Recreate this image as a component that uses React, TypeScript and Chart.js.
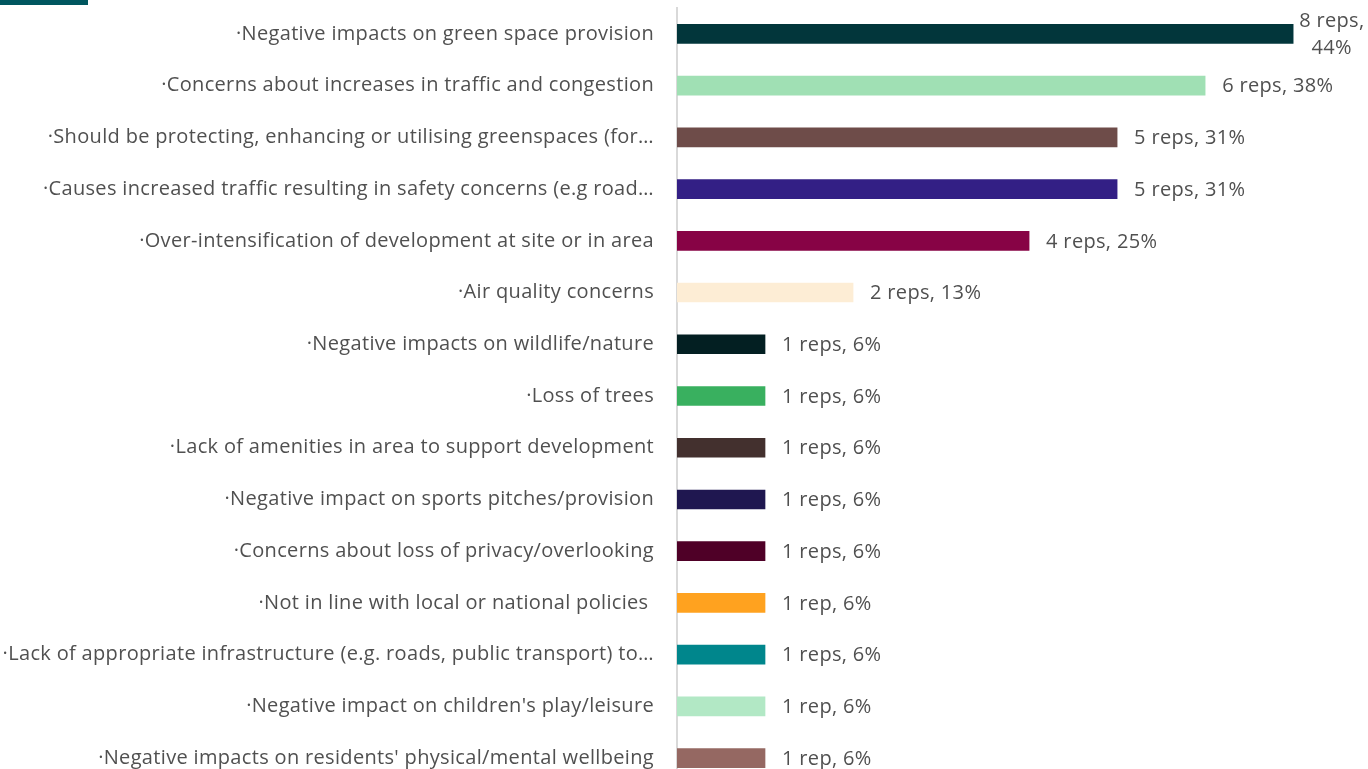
import React, { useEffect, useRef } from "react";
import { Chart, registerables } from "chart.js";

Chart.register(...registerables);

const categories = [
  "·Negative impacts on green space provision",
  "·Concerns about increases in traffic and congestion",
  "·Should be protecting, enhancing or utilising greenspaces (for…",
  "·Causes increased traffic resulting in safety concerns (e.g road…",
  "·Over-intensification of development at site or in area",
  "·Air quality concerns",
  "·Negative impacts on wildlife/nature",
  "·Loss of trees",
  "·Lack of amenities in area to support development",
  "·Negative impact on sports pitches/provision",
  "·Concerns about loss of privacy/overlooking",
  "·Not in line with local or national policies ",
  "·Lack of appropriate infrastructure (e.g. roads, public transport) to…",
  "·Negative impact on children's play/leisure",
  "·Negative impacts on residents' physical/mental wellbeing",
];

const percentValues = [43.75, 37.5, 31.25, 31.25, 25, 12.5, 6.25, 6.25, 6.25, 6.25, 6.25, 6.25, 6.25, 6.25, 6.25];

const valueLabels = [
  "8 reps, 44%",
  "6 reps, 38%",
  "5 reps, 31%",
  "5 reps, 31%",
  "4 reps, 25%",
  "2 reps, 13%",
  "1 reps, 6%",
  "1 reps, 6%",
  "1 reps, 6%",
  "1 reps, 6%",
  "1 reps, 6%",
  "1 rep, 6%",
  "1 reps, 6%",
  "1 rep, 6%",
  "1 rep, 6%",
];

const barColors = [
  "#02363B",
  "#A0E0B4",
  "#6E4C49",
  "#331F85",
  "#870345",
  "#FDEDD5",
  "#031F22",
  "#39B05F",
  "#43302E",
  "#1F1750",
  "#4F0027",
  "#FFA21F",
  "#00868C",
  "#B2E8C5",
  "#956862",
];

const FONT_FAMILY = "'Open Sans', Lato, sans-serif";
const FONT_SIZE = 20;
const LETTER_SPACING = "0.33px";
const TEXT_COLOR = "#505050";

const spacingPlugin = {
  id: "letterSpacing",
  beforeDraw(chart: any) {
    (chart.ctx as any).letterSpacing = LETTER_SPACING;
  },
};

const valueLabelPlugin = {
  id: "valueLabels",
  afterDatasetsDraw(chart: any) {
    const ctx = chart.ctx;
    const meta = chart.getDatasetMeta(0);
    ctx.save();
    (ctx as any).letterSpacing = LETTER_SPACING;
    ctx.font = `${FONT_SIZE}px ${FONT_FAMILY}`;
    ctx.fillStyle = TEXT_COLOR;
    ctx.textBaseline = "middle";
    meta.data.forEach((bar: any, i: number) => {
      const text = valueLabels[i];
      const w = ctx.measureText(text).width;
      const x = bar.x + 17;
      if (x + w > chart.width - 2) {
        const idx = text.indexOf(", ");
        const l1 = text.slice(0, idx + 1);
        const l2 = text.slice(idx + 2);
        const maxW = Math.max(ctx.measureText(l1).width, ctx.measureText(l2).width);
        const cx = bar.x + 6 + maxW / 2;
        ctx.textAlign = "center";
        ctx.fillText(l1, cx, bar.y - 13);
        ctx.fillText(l2, cx, bar.y + 14);
      } else {
        ctx.textAlign = "left";
        ctx.fillText(text, x, bar.y + 1);
      }
    });
    ctx.restore();
  },
};

export default function App() {
  const canvasRef = useRef<HTMLCanvasElement | null>(null);

  useEffect(() => {
    if (!canvasRef.current) return;
    const chart = new Chart(canvasRef.current, {
      type: "bar",
      data: {
        labels: categories,
        datasets: [
          {
            data: percentValues,
            backgroundColor: barColors,
            borderWidth: 0,
            barThickness: 19,
          },
        ],
      },
      options: {
        indexAxis: "y",
        animation: false,
        responsive: false,
        layout: { padding: { top: 8, right: 15, bottom: 0, left: 0 } },
        plugins: {
          legend: { display: false },
          tooltip: { enabled: false },
        },
        scales: {
          x: {
            display: false,
            min: 0,
            max: 48,
          },
          y: {
            grid: { display: false },
            border: { display: true, color: "#D9D9D9", width: 2 },
            ticks: {
              padding: 15,
              color: TEXT_COLOR,
              font: { family: FONT_FAMILY, size: FONT_SIZE },
              autoSkip: false,
            },
            afterFit: (scale: any) => {
              scale.width = 677;
              scale.paddingTop = 0;
              scale.paddingBottom = 0;
            },
          },
        },
      },
      plugins: [spacingPlugin, valueLabelPlugin],
    });
    return () => chart.destroy();
  }, []);

  return (
    <div
      style={{
        position: "absolute",
        left: 0,
        top: 0,
        width: 1368,
        height: 769,
        overflow: "hidden",
        background: "#fff",
      }}
    >
      <canvas ref={canvasRef} width={1368} height={784} style={{ display: "block" }} />
      <div
        style={{
          position: "absolute",
          left: 0,
          top: 0,
          width: 88,
          height: 5,
          background: "#00565F",
        }}
      />
    </div>
  );
}
